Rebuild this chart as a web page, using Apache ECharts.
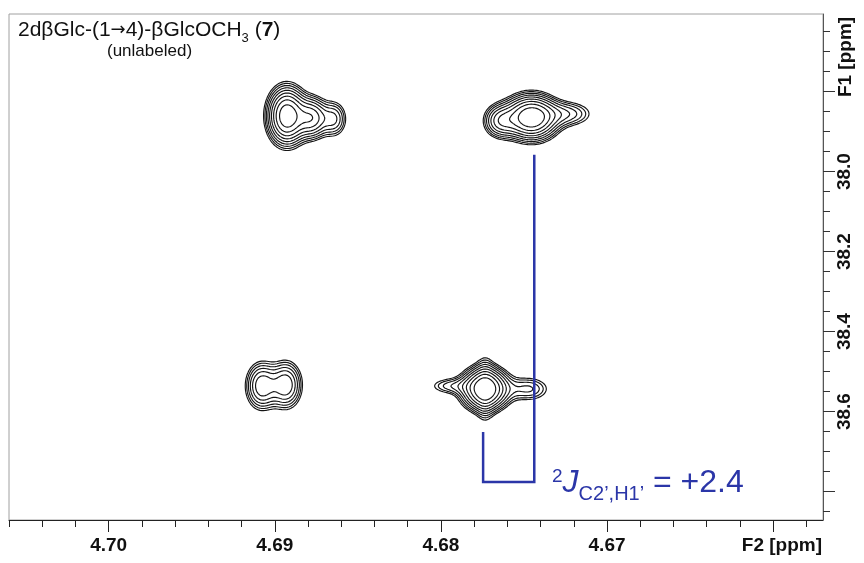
<!DOCTYPE html>
<html><head><meta charset="utf-8">
<script src="https://cdn.jsdelivr.net/npm/echarts@6/dist/echarts.min.js"></script>
<style>html,body{margin:0;padding:0;background:#fff}#c{width:864px;height:563px}</style>
</head><body><div id="c"></div>
<script>
// ---- axes (ppm) ----
const xRange = [4.6570, 4.7060];          // F2 (displayed reversed)
const yRange = [37.606, 38.871];          // F1 (displayed reversed)
const xMajorTicks = [4.70, 4.69, 4.68, 4.67, 4.66];
const xTickLabels = [4.70, 4.69, 4.68, 4.67];
const xMinorTicks = [4.706, 4.704, 4.702, 4.698, 4.696, 4.694, 4.692, 4.688, 4.686, 4.684, 4.682,
                     4.678, 4.676, 4.674, 4.672, 4.668, 4.666, 4.664, 4.662, 4.658];
const yMajorTicks = [37.8, 38.0, 38.2, 38.4, 38.6, 38.8];
const yTickLabels = [38.0, 38.2, 38.4, 38.6];
const yMinorTicks = [37.65, 37.70, 37.75, 37.85, 37.90, 37.95, 38.05, 38.10, 38.15, 38.25, 38.30, 38.35,
                     38.45, 38.50, 38.55, 38.65, 38.70, 38.75, 38.85];

// ---- peak components (ppm) ----
// UL main, UL shoulder a, UL shoulder b, UR main, UR left, UR tail, LL a, LL b, LR main, LR ridge, LR left tail, LR right tail
const peakF2     = [4.68927, 4.68776, 4.68644, 4.67456, 4.67643, 4.67239, 4.69078, 4.68933, 4.67734, 4.67734, 4.67946, 4.67474];
const peakF1     = [37.8608, 37.8658, 37.8683, 37.8646, 37.8733, 37.8558, 38.5358, 38.5333, 38.5433, 38.5433, 38.5358, 38.5433];
const peakAmp    = [10.3, 5.6, 2.9, 10.8, 4.0, 2.5, 4.6, 4.6, 10.5, 1.5, 1.8, 2.3];
const peakWidthX = [0.00065, 0.00056, 0.00048, 0.00090, 0.00060, 0.00096, 0.00057, 0.00057, 0.00081, 0.00036, 0.00084, 0.00084];
const peakWidthY = [0.040, 0.030, 0.0275, 0.0313, 0.025, 0.020, 0.035, 0.035, 0.030, 0.060, 0.0138, 0.020];
const contourLevels = [1, 1.3, 1.69, 2.2, 2.86, 3.71, 4.83, 6.27, 8.16];

// ---- coupling bracket (ppm) ----
const bracketX = [4.67746, 4.67438];        // left, right
const bracketY = [38.651, 37.958, 38.776];  // left top, right top, bottom

function field(x, y) {
  let s = 0;
  for (let k = 0; k < peakF2.length; k++) {
    const dx = (x - peakF2[k]) / peakWidthX[k], dy = (y - peakF1[k]) / peakWidthY[k];
    s += peakAmp[k] * Math.exp(-0.5 * (dx * dx + dy * dy));
  }
  return s;
}

function contours() {
  const nx = 480, ny = 480;
  const xs = [], ys = [], g = [];
  for (let i = 0; i <= nx; i++) xs.push(xRange[0] + (xRange[1] - xRange[0]) * i / nx);
  for (let j = 0; j <= ny; j++) ys.push(yRange[0] + (yRange[1] - yRange[0]) * j / ny);
  for (let i = 0; i <= nx; i++) { const col = []; for (let j = 0; j <= ny; j++) col.push(field(xs[i], ys[j])); g.push(col); }
  const out = [];
  contourLevels.forEach(L => {
    const pts = {}; const adj = {}; const segs = [];
    function ek(i, j, e) {
      let key, p;
      if (e === 0) { key = 'h' + i + ',' + j; const t = (L - g[i][j]) / (g[i + 1][j] - g[i][j]); p = [xs[i] + t * (xs[i + 1] - xs[i]), ys[j]]; }
      else if (e === 2) { key = 'h' + i + ',' + (j + 1); const t = (L - g[i][j + 1]) / (g[i + 1][j + 1] - g[i][j + 1]); p = [xs[i] + t * (xs[i + 1] - xs[i]), ys[j + 1]]; }
      else if (e === 3) { key = 'v' + i + ',' + j; const t = (L - g[i][j]) / (g[i][j + 1] - g[i][j]); p = [xs[i], ys[j] + t * (ys[j + 1] - ys[j])]; }
      else { key = 'v' + (i + 1) + ',' + j; const t = (L - g[i + 1][j]) / (g[i + 1][j + 1] - g[i + 1][j]); p = [xs[i + 1], ys[j] + t * (ys[j + 1] - ys[j])]; }
      pts[key] = p; return key;
    }
    function add(a, b) { const s = segs.length; segs.push([a, b]); (adj[a] = adj[a] || []).push(s); (adj[b] = adj[b] || []).push(s); }
    for (let i = 0; i < nx; i++) for (let j = 0; j < ny; j++) {
      const a = g[i][j], b = g[i + 1][j], c = g[i + 1][j + 1], d = g[i][j + 1];
      const code = (a > L ? 1 : 0) | (b > L ? 2 : 0) | (c > L ? 4 : 0) | (d > L ? 8 : 0);
      if (code === 0 || code === 15) continue;
      const E = e => ek(i, j, e);
      const ctr = (a + b + c + d) / 4;
      switch (code) {
        case 1: case 14: add(E(3), E(0)); break;
        case 2: case 13: add(E(0), E(1)); break;
        case 3: case 12: add(E(3), E(1)); break;
        case 4: case 11: add(E(1), E(2)); break;
        case 6: case 9: add(E(0), E(2)); break;
        case 7: case 8: add(E(3), E(2)); break;
        case 5: if (ctr > L) { add(E(0), E(1)); add(E(3), E(2)); } else { add(E(3), E(0)); add(E(1), E(2)); } break;
        case 10: if (ctr > L) { add(E(3), E(0)); add(E(1), E(2)); } else { add(E(0), E(1)); add(E(3), E(2)); } break;
      }
    }
    const used = new Array(segs.length).fill(false);
    for (let s0 = 0; s0 < segs.length; s0++) {
      if (used[s0]) continue;
      used[s0] = true;
      const chain = [segs[s0][0], segs[s0][1]];
      let cur = segs[s0][1];
      while (true) {
        const nxt = (adj[cur] || []).find(s => !used[s]);
        if (nxt === undefined) break;
        used[nxt] = true;
        cur = segs[nxt][0] === cur ? segs[nxt][1] : segs[nxt][0];
        chain.push(cur);
      }
      cur = segs[s0][0];
      while (true) {
        const nxt = (adj[cur] || []).find(s => !used[s]);
        if (nxt === undefined) break;
        used[nxt] = true;
        cur = segs[nxt][0] === cur ? segs[nxt][1] : segs[nxt][0];
        chain.unshift(cur);
      }
      out.push({ coords: chain.map(k => pts[k]) });
    }
  });
  return out;
}

const FONT = '"Liberation Sans", Arial, Helvetica, sans-serif';
const blue = '#2b36a8';
const ink = '#111';

const chart = echarts.init(document.getElementById('c'), null, { renderer: 'canvas' });
const common = { type: 'value', splitLine: { show: false } };
chart.setOption({
  animation: false,
  grid: { left: 9, right: 41, top: 14, bottom: 43, show: true, borderColor: '#a0a0a0', borderWidth: 1 },
  xAxis: [
    Object.assign({}, common, {
      min: xRange[0], max: xRange[1], inverse: true, position: 'bottom',
      axisLine: { show: true, lineStyle: { color: '#222', width: 1 } },
      axisTick: { show: true, length: 12, customValues: xMajorTicks, lineStyle: { color: '#222' } },
      axisLabel: { customValues: xTickLabels, margin: 16, formatter: v => v.toFixed(2),
        fontFamily: FONT, fontSize: 19, fontWeight: 'bold', color: ink }
    }),
    Object.assign({}, common, {
      min: xRange[0], max: xRange[1], inverse: true, position: 'bottom',
      axisLine: { show: false },
      axisTick: { show: true, length: 7, customValues: xMinorTicks, lineStyle: { color: '#222' } },
      axisLabel: { show: false }
    })
  ],
  yAxis: [
    Object.assign({}, common, {
      min: yRange[0], max: yRange[1], inverse: true, position: 'right',
      axisLine: { show: true, lineStyle: { color: '#555', width: 1 } },
      axisTick: { show: true, length: 12, customValues: yMajorTicks, lineStyle: { color: '#333' } },
      axisLabel: { customValues: yTickLabels, margin: 12, rotate: 90, formatter: v => v.toFixed(1),
        fontFamily: FONT, fontSize: 19, fontWeight: 'bold', color: ink }
    }),
    Object.assign({}, common, {
      min: yRange[0], max: yRange[1], inverse: true, position: 'right',
      axisLine: { show: false },
      axisTick: { show: true, length: 7, customValues: yMinorTicks, lineStyle: { color: '#333' } },
      axisLabel: { show: false }
    })
  ],
  series: [
    { type: 'lines', coordinateSystem: 'cartesian2d', polyline: true, silent: true,
      lineStyle: { color: '#141414', width: 1.15, opacity: 1 }, data: contours() },
    { type: 'lines', coordinateSystem: 'cartesian2d', polyline: true, silent: true,
      lineStyle: { color: blue, width: 2.5, opacity: 1 },
      data: [{ coords: [[bracketX[0], bracketY[0]], [bracketX[0], bracketY[2]], [bracketX[1], bracketY[2]], [bracketX[1], bracketY[1]]] }] }
  ],
  graphic: [
    { type: 'text', left: 18, top: 18, style: {
        text: '{n|2dβGlc-(1}{a|→}{n|4)-βGlcOCH}{s|3}{n| (}{b|7}{n|)}',
        rich: {
          n: { fontFamily: FONT, fontSize: 21, fill: ink, lineHeight: 25 },
          a: { fontFamily: '"DejaVu Sans", sans-serif', fontSize: 18, fill: ink, lineHeight: 25 },
          b: { fontFamily: FONT, fontSize: 21, fontWeight: 'bold', fill: ink, lineHeight: 25 },
          s: { fontFamily: FONT, fontSize: 13, fill: ink, verticalAlign: 'top', lineHeight: 14, padding: [14, 0, 0, 0] }
        } } },
    { type: 'text', left: 107, top: 43, style: { text: '(unlabeled)', font: '17px ' + FONT, fill: ink } },
    { type: 'text', right: 42, top: 536, style: { text: 'F2 [ppm]', font: 'bold 19px ' + FONT, fill: ink } },
    { type: 'text', x: 846, y: 57, rotation: Math.PI / 2, style: { text: 'F1 [ppm]', font: 'bold 19px ' + FONT, fill: ink, align: 'center', verticalAlign: 'middle' } },
    { type: 'text', left: 552, top: 467, style: {
        text: '{p|2}{j|J}{s|C2\u2019,H1\u2019}{n| = +2.4}',
        rich: {
          p: { fontFamily: FONT, fontSize: 19, fill: blue, verticalAlign: 'top', lineHeight: 19 },
          j: { fontFamily: FONT, fontSize: 32, fontStyle: 'italic', fill: blue, lineHeight: 32 },
          n: { fontFamily: FONT, fontSize: 32, fill: blue, lineHeight: 32 },
          s: { fontFamily: FONT, fontSize: 20, fill: blue, verticalAlign: 'top', lineHeight: 20, padding: [17, 0, 0, 0] }
        } } }
  ]
});
</script>
</body></html>
